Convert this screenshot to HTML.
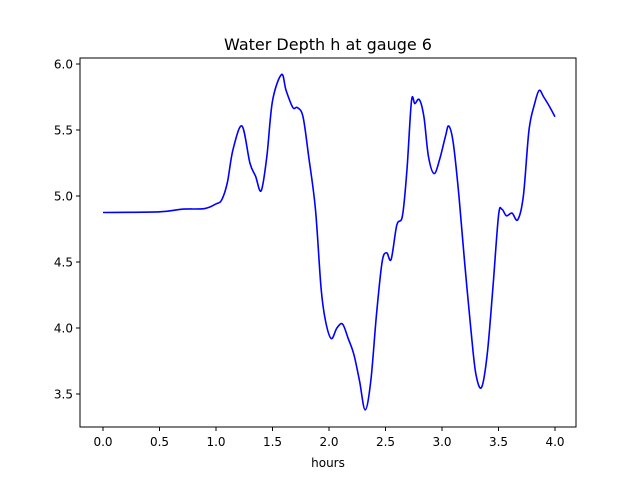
<!DOCTYPE html>
<html><head><meta charset="utf-8">
<style>
body{margin:0;background:#fff;}
text{font-family:"DejaVu Sans","Liberation Sans",sans-serif;}
</style></head>
<body>
<svg id="chart" width="640" height="480" xmlns="http://www.w3.org/2000/svg">
<rect width="640" height="480" fill="#fff"/>
<text x="328" y="50" font-size="16" text-anchor="middle">Water Depth h at gauge 6</text>
<g id="plot"></g>
<rect x="80" y="58" width="496" height="369" fill="none" stroke="#000" stroke-width="1"/>
<text x="328" y="467" font-size="12" text-anchor="middle">hours</text>
</svg>
<script>
const hours=[0,0.5,0.7,0.9,1.0,1.05,1.1,1.15,1.23,1.3,1.35,1.4,1.45,1.5,1.58,1.62,1.68,1.72,1.77,1.82,1.88,1.93,1.97,2.02,2.07,2.12,2.17,2.22,2.27,2.32,2.37,2.42,2.47,2.51,2.55,2.6,2.65,2.69,2.73,2.76,2.8,2.84,2.88,2.93,2.98,3.03,3.06,3.1,3.15,3.2,3.26,3.3,3.35,3.4,3.45,3.5,3.53,3.57,3.62,3.67,3.72,3.77,3.82,3.86,3.9,3.95,4.0];
const depth=[4.875,4.88,4.9,4.905,4.94,4.97,5.1,5.35,5.53,5.25,5.15,5.04,5.3,5.72,5.92,5.8,5.67,5.67,5.6,5.3,4.9,4.3,4.05,3.92,4.0,4.03,3.92,3.8,3.6,3.38,3.6,4.1,4.5,4.57,4.52,4.78,4.85,5.2,5.72,5.7,5.73,5.6,5.3,5.17,5.28,5.45,5.53,5.4,5.0,4.5,3.95,3.65,3.55,3.8,4.3,4.85,4.9,4.85,4.87,4.82,5.0,5.5,5.7,5.8,5.75,5.68,5.6];
const xTicks=[0,0.5,1,1.5,2,2.5,3,3.5,4];
const xTickLabels=["0.0","0.5","1.0","1.5","2.0","2.5","3.0","3.5","4.0"];
const yTicks=[3.5,4,4.5,5,5.5,6];
const yTickLabels=["3.5","4.0","4.5","5.0","5.5","6.0"];
const NS="http://www.w3.org/2000/svg";
const xs=v=>103+v*113;
const ys=v=>64+(6-v)*132;
const g=document.getElementById('plot');
function mk(t,a){const e=document.createElementNS(NS,t);for(const k in a)e.setAttribute(k,a[k]);g.appendChild(e);return e;}
xTicks.forEach((v,i)=>{
  const l=mk('line',{x1:xs(v),x2:xs(v),y1:427,y2:431,stroke:'#000'});
  
  
  const t=mk('text',{x:xs(v),y:446,'font-size':12,'text-anchor':'middle'});
  t.textContent=xTickLabels[i];
  
  
});
yTicks.forEach((v,i)=>{
  const l=mk('line',{x1:76,x2:80,y1:ys(v),y2:ys(v),stroke:'#000'});
  
  
  const t=mk('text',{x:73,y:ys(v)+4.5,'font-size':12,'text-anchor':'end'});
  t.textContent=yTickLabels[i];
  
  
});
const P=hours.map((h,i)=>[xs(h),ys(depth[i])]);
let d='M'+P[0][0]+','+P[0][1];
for(let i=0;i<P.length-1;i++){
  const p0=P[Math.max(0,i-1)],p1=P[i],p2=P[i+1],p3=P[Math.min(P.length-1,i+2)];
  const c1=[p1[0]+(p2[0]-p0[0])/6,p1[1]+(p2[1]-p0[1])/6];
  const c2=[p2[0]-(p3[0]-p1[0])/6,p2[1]-(p3[1]-p1[1])/6];
  d+=` C${c1[0]},${c1[1]} ${c2[0]},${c2[1]} ${p2[0]},${p2[1]}`;
}
const line=mk('path',{d:d,fill:'none',stroke:'#0000ff','stroke-width':1.6});


</script>
</body></html>
